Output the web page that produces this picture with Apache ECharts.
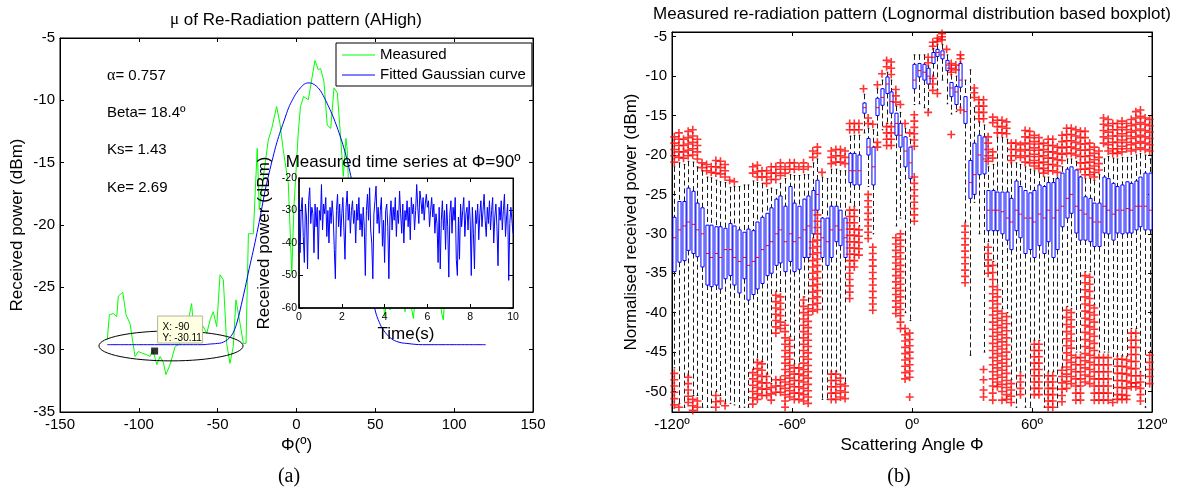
<!DOCTYPE html>
<html>
<head>
<meta charset="utf-8">
<title>Re-radiation pattern</title>
<script src="https://cdn.jsdelivr.net/npm/echarts@6/dist/echarts.min.js"></script>
<style>
  html, body { margin: 0; padding: 0; background: #fff; }
  #chart { width: 1183px; height: 490px; }
</style>
</head>
<body>
<div id="chart"></div>
<script>
(function (win, echarts) {
    var FONT = '"Liberation Sans", Arial, sans-serif',
        SERIF = '"Liberation Serif", "Times New Roman", serif';

    // (a) measured re-radiation and fitted gaussian
    var measuredAngle = [-120, -118.7, -116.2, -114, -113, -110.2, -108.1, -105.6, -102.4, -100.3, -97.5, -95, -92.9, -91.2, -88.6, -86.5, -84.5, -82.8, -80.2, -77,
        -74.8, -72.8, -69.6, -67.5, -66.5, -65.4, -62.3, -59.1, -56.9, -54.8, -52.8, -50.6, -48.5, -46.4, -44.3, -42.2, -40.1, -38.4, -35.8, -33.7,
        -32, -30.5, -27.4, -24.9, -23.6, -21, -17.9, -15.7, -12.6, -10.5, -8.4, -5.2, -3, -1.6, 1.1, 2.5, 4.5, 7.5, 11.7, 13.8,
        15.3, 17.4, 19.5, 21.7, 23.8, 25.9, 28, 29.7, 31.4, 32.2, 32.9, 34, 36, 38, 40, 42, 44, 46, 48, 50,
        52, 54, 56, 58, 59.3, 61, 63, 65, 67, 68.8, 70, 72, 74.1, 76, 78, 80, 82, 84, 86, 88,
        90, 92.1, 93.1, 95, 97, 99, 101, 103, 105, 107, 109, 111, 113, 115, 117, 119, 120];
    var measuredPower = [-29.2, -27.2, -27.1, -27.35, -25.7, -25.4, -27.2, -27.9, -30.55, -30.15, -30.3, -30.4, -30.55, -30, -31.2, -30.55, -31, -32, -31.2, -29.75,
        -29.6, -29.35, -28.15, -26.95, -26.3, -28.15, -29.1, -28.15, -28.7, -27.6, -26.95, -28.15, -24, -24.4, -29.5, -31.1, -29.75, -26, -27.9, -29.5,
        -29.5, -20.7, -20.7, -13.85, -18.8, -16.1, -13.2, -12.25, -10.5, -11.85, -14, -16.65, -23.9, -18.5, -12.65, -10.5, -9.7, -9.95, -6.8, -7.55,
        -7.45, -8.5, -12, -12.25, -9, -9.4, -13, -16.1, -13.05, -14, -16.4, -19, -24, -22, -25.5, -21, -24, -22.5, -25, -23,
        -26, -25, -27.35, -25, -26.8, -24, -22.5, -25, -24, -26.95, -25.5, -26, -27.5, -25, -22, -24, -21.5, -23, -25, -22,
        -24.5, -27.1, -27.6, -24, -22, -25, -23, -21.5, -24, -26, -23, -25.5, -22, -24, -25, -23, -24];
    var fittedAngle = [-120, -100, -80, -60, -55, -50, -47.5, -45, -42.5, -40, -37.5, -35, -32.5, -30, -27.5, -25, -22.5, -20, -17.5, -15,
        -12.5, -10, -7.5, -5, -2.5, 0, 2.5, 5, 8, 10, 12.5, 15, 17.5, 20, 22.5, 25, 27.5, 30, 32.5, 35,
        37.5, 40, 42.5, 45, 47.5, 50, 52.5, 55, 60, 65, 70, 80, 100, 120];
    var fittedPower = [-29.6, -29.6, -29.6, -29.6, -29.55, -29.5, -29.45, -29.3, -29.05, -28.6, -27.7, -26.4, -25, -23.5, -22.1, -20.6, -19, -17.3, -15.9, -14.6,
        -13.4, -12.4, -11.5, -10.6, -9.95, -9.4, -9, -8.7, -8.6, -8.65, -8.85, -9.2, -9.75, -10.4, -11.1, -11.9, -12.8, -13.8, -15, -16.4,
        -18, -19.8, -21.7, -23.4, -25.3, -26.9, -27.8, -28.4, -29.1, -29.4, -29.5, -29.6, -29.6, -29.6];
    var markerPoint = [-90, -30.11];
    var ellipseCenter = [-79.6, -29.7],
        ellipseRadius = [45.7, 1.2];

    // inset: measured time series at 90 deg, one value every 0.05 s
    var timeStep = 0.05;
    var timeSeries = [
        -27, -43, -30, -26, -38, -46, -28, -32, -48, -27,
        -23, -34, -29, -31, -43, -28, -35, -29, -45, -30,
        -33, -22, -36, -28, -31, -26, -38, -30, -40, -29,
        -34, -27, -32, -42, -51, -30, -25, -35, -28, -38,
        -31, -26, -36, -45, -29, -24, -33, -28, -37, -30,
        -27, -34, -30, -40, -28, -33, -26, -36, -31, -38,
        -29, -35, -50, -30, -25, -33, -23, -36, -40, -51,
        -31, -27, -22.5, -34, -29, -37, -30, -26, -41, -33,
        -46, -30, -28, -35, -51, -32, -27, -36, -29, -33,
        -26, -38, -30, -34, -24, -31, -37, -28, -40, -30,
        -33, -27, -35, -29, -39, -26, -31, -28, -36, -30,
        -22, -29, -34, -24, -27, -31, -26, -33, -28, -25,
        -29, -27, -35, -30, -26, -32, -28, -37, -31, -34,
        -46, -29, -48, -33, -27, -36, -30, -42, -28, -35,
        -50.5, -31, -27, -37, -29, -33, -26, -45, -50, -32,
        -45, -28, -35, -30, -26, -38, -31, -29, -36, -27,
        -33, -50, -29, -37, -48, -30, -34, -28, -39, -31,
        -27, -35, -30, -25, -33, -38, -29, -34, -27, -36,
        -30, -26, -40, -32, -28, -35, -47, -29, -33, -27,
        -36, -30, -25, -38, -32, -28, -51.5, -34, -29, -33,
        -37];

    // (b) boxplot per angle step
    var whiskerLow = [-47, -51.5, -52, -48, -50.5, -50.5, -52, -52, -52, -50, -50.5, -51.5, -51.5, -51.7, -52, -52, -52, -47.2, -46, -46.2,
        -47.8, -49, -37.3, -37.3, -41, -43, -46.5, -46.5, -38, -39, -30.5, -27.3, -51, -51, -47.5, -47.5, -48, -49, -26, -26.5,
        -29, -17.2, -24, -30, -17.5, -16.8, -16, -16, -29, -28, -40, -41, -13.6, -13.5, -14, -14.3, -10, -11.7, -10.5, -13.5,
        -14.8, -14.5, -14, -28.5, -45.4, -26, -30, -45, -31, -33.5, -36.5, -39.5, -40, -48.5, -52, -47.5, -52, -52, -43.5, -43.5,
        -52, -47.5, -47.5, -52, -47, -39.2, -39.5, -45, -45, -34.8, -34.8, -39, -45, -45, -45, -51, -45.5, -45.5, -45.5, -42,
        -42, -47.5, -52, -45];
    var boxLow = [-34.8, -33.6, -33.4, -32.1, -32.5, -32.9, -34.2, -36.5, -36.7, -36.5, -37, -35.7, -35.3, -36.5, -37.5, -35.7, -38.4, -37.7, -37, -36.3,
        -35.3, -35, -34, -33.7, -34.8, -33.5, -34.8, -34.5, -33, -33, -30, -27, -33, -34, -33, -31, -31.5, -33, -23.5, -23.8,
        -23.8, -14.7, -20, -23.8, -15, -13.7, -12.2, -14.7, -17.5, -19, -21.5, -23, -11.6, -10.1, -10.5, -11, -8.4, -7.5, -7.8, -9.3,
        -12.6, -13.6, -11.4, -16, -25.5, -25, -22.5, -22.4, -29.6, -29.6, -29.6, -30, -30.8, -32, -29.6, -30.5, -32.5, -32, -33, -31.5,
        -32.5, -31, -33, -32, -29.1, -28, -27.4, -29.9, -30.8, -30.8, -31, -31.6, -31.6, -29.9, -30, -30.8, -29.9, -30, -29.9, -29.9,
        -29.5, -29.1, -29.5, -29.5];
    var boxMedian = [-30.5, -29.5, -29, -28.5, -28.8, -29.5, -30, -32.5, -33, -32.5, -33, -32, -32, -33, -33.5, -33, -34, -33.5, -33, -32,
        -31.5, -31, -30, -29.5, -31, -30, -31, -30.5, -29.5, -29, -27, -25, -30.5, -31, -29.5, -29, -29.5, -30.5, -22, -22,
        -22, -14, -19, -21.5, -14, -12.7, -11, -13.2, -16, -17.5, -19.5, -21, -10.5, -9.3, -9.5, -10, -7.6, -7, -7.3, -8.6,
        -11.5, -12, -10.5, -14.5, -23.5, -22.5, -20, -20.5, -27, -27, -27, -27.2, -28, -28.5, -27, -27.5, -28, -28, -28.5, -27.5,
        -28, -27, -28, -27, -26.5, -25.5, -25, -26.5, -27, -27.5, -28, -28.5, -28.5, -26.5, -27, -27.5, -27, -27, -26.8, -27,
        -26.5, -26.5, -26.5, -27];
    var boxHigh = [-27.9, -25.9, -25.9, -24.2, -24.6, -26.1, -26.7, -28.9, -28.9, -29.1, -29.1, -29.3, -28.7, -29, -29.5, -29.8, -29.4, -29.6, -28.5, -27.9,
        -27.4, -26.7, -25.6, -25.2, -26.5, -24, -26.1, -26.5, -25.6, -25.2, -24.5, -23.2, -28, -28, -26.5, -26.5, -27, -28, -19.8, -19.8,
        -20, -13.4, -17.9, -19, -12.8, -11.6, -10.1, -12, -14.7, -16, -17.7, -19, -8.5, -8.4, -8.5, -9, -7, -6.6, -6.8, -8,
        -10.8, -11.3, -8.4, -12.6, -20.7, -18.5, -17.5, -17.7, -24.5, -24.5, -24.7, -24.7, -24.7, -25.5, -23.3, -24, -24.5, -24.8, -24.5, -23.8,
        -24, -23.5, -23.5, -23, -22.3, -21.8, -21.5, -21.9, -22.8, -25.3, -25.5, -26.1, -26.1, -22.8, -23, -23.6, -24, -23.8, -23.4, -23.6,
        -23.3, -22.8, -22.3, -22.3];
    var whiskerHigh = [-21.5, -21, -21.2, -20.8, -20.9, -21.5, -22, -22.8, -22.9, -23.2, -23.4, -23.5, -24.1, -24, -24, -23.8, -23.8, -23.3, -23.5, -23.6,
        -24.4, -24.2, -24.4, -23.6, -23, -22.5, -22.6, -22.6, -22.5, -22.5, -21, -20.5, -22.8, -23, -21.8, -21.8, -22, -22, -17.6, -17.5,
        -17.5, -12.3, -16.6, -16.8, -11.6, -10.5, -9.5, -10.5, -13.8, -14.6, -16.6, -18, -7.3, -7.3, -7.3, -8.7, -6.5, -6, -6, -7.3,
        -9.8, -10, -8.2, -10.5, -9.2, -14, -15.8, -16.2, -21.5, -21.2, -17.8, -17.8, -18, -21, -21, -21.2, -21.5, -21.8, -22, -22.3,
        -22.8, -22.8, -23, -22.8, -21.5, -20.5, -20.5, -20.8, -22.7, -23, -23, -23.2, -22.5, -20.5, -20.2, -20.4, -20.5, -20.3, -20.3, -20.3,
        -20, -19.8, -20, -20.5];
    // [box index, outlier values]
    var upperOutliers = [
        [0, [-17.7, -18.5, -19.3, -20.1, -20.9]], [1, [-17.2, -18, -18.8, -19.6, -20.3]], [2, [-18, -18.8, -19.6, -20.4]],
        [3, [-17, -17.8, -18.6, -19.4, -20.1]], [4, [-16.8, -17.6, -18.4, -19.2, -20]], [5, [-18, -18.8, -19.6, -20.5]],
        [6, [-21, -21.6]], [7, [-21.2, -22]], [8, [-21.5, -22.2]], [9, [-20.7, -21.5, -22.3]], [10, [-20.8, -21.6, -22.4]],
        [11, [-21.2, -22, -22.8]], [12, [-23.2]], [13, [-23.4]], [17, [-21.5, -22.3]], [18, [-21.3, -22.1, -22.8]],
        [19, [-22, -22.8]], [20, [-22, -22.8, -23.6]], [21, [-21.5, -22.3, -23.1]], [22, [-21.5, -22.3, -23.1]],
        [23, [-21, -21.8, -22.6]], [24, [-21.5, -22.3]], [25, [-21, -21.8]], [26, [-21, -21.8]], [27, [-21.5]],
        [28, [-21, -21.8]], [29, [-21.5]], [30, [-19.5, -20.3]], [31, [-19, -19.8]], [32, [-22.2]],
        [34, [-19.5, -20.3, -21.1]], [35, [-19.3, -20.1, -20.9]], [36, [-19.3, -20.1, -20.9]], [37, [-19.5, -20.3, -21.1]],
        [38, [-16, -16.8]], [39, [-16, -16.8]], [40, [-16, -16.8]], [41, [-11.6]], [42, [-15.3, -16]], [43, [-16.1]],
        [44, [-11.1]], [45, [-9.7]], [46, [-8, -8.8]], [47, [-8.2, -9, -9.8]], [48, [-11.7, -12.5, -13.3]], [49, [-13.6]],
        [50, [-16]], [51, [-17.2]], [55, [-7.6, -8.3]], [56, [-5.7, -6.2]], [57, [-5.2, -5.6]], [58, [-4.6, -5, -5.4]],
        [59, [-6.6]], [60, [-8.4, -9, -9.5]], [61, [-8.6, -9.2]], [62, [-7.3, -7.8]], [65, [-11.5, -12.1, -12.7]],
        [66, [-13, -13.8, -14.6, -15.4]], [67, [-13, -13.8, -14.6, -15.4]], [68, [-17.7, -18.5, -19.3, -20.1, -20.8]],
        [69, [-15.2, -15.9, -19.6, -20.4]], [70, [-15.6, -16.4, -17.2]], [71, [-15.6, -16.4, -17.2]], [72, [-15.8, -16.6, -17.3]],
        [73, [-18.5, -19.3, -20.1, -20.7]], [74, [-18.5, -19.3, -20.1]], [75, [-18.7, -19.5, -20.3]],
        [76, [-16.9, -17.7, -18.5, -19.3, -20.1, -20.9]], [77, [-17, -17.8, -18.6, -19.4, -20.2, -21]],
        [78, [-17.5, -18.3, -19.1, -19.9, -20.7, -21.4]], [79, [-17.8, -18.6, -19.4, -20.2, -21, -21.7]],
        [80, [-18.5, -19.3, -20.1, -20.9, -21.7, -22.3]], [81, [-18, -18.8, -19.6, -20.4, -21.2, -22]],
        [82, [-18, -18.8, -19.6, -20.4, -21.2, -22]], [83, [-19, -19.8, -20.6, -21.4, -22.2]],
        [84, [-17.5, -18.3, -19.1, -19.9, -20.7]], [85, [-16.6, -17.4, -18.2, -19, -19.8]], [86, [-16.6, -17.4, -18.2, -19, -19.8]],
        [87, [-16.8, -17.6, -18.4, -19.2, -20]], [88, [-17, -17.8, -18.6, -19.4, -20.2, -21, -21.8]],
        [89, [-17, -17.8, -18.6, -19.4, -20.2, -21, -21.8, -22.5]], [90, [-18.5, -19.3, -20.1, -20.9, -21.7, -22.5]],
        [91, [-19, -19.8, -20.6, -21.4, -22.2, -22.8]], [92, [-19.5, -20.3, -21.1, -21.9]], [93, [-15.3, -16.1, -16.9, -17.7, -18.5]],
        [94, [-15.5, -16.3, -17.1, -17.9, -18.7, -19.5]], [95, [-16, -16.8, -17.6, -18.4, -19.2, -19.8]],
        [96, [-16, -16.8, -17.6, -18.4, -19.2, -19.8]], [97, [-15.7, -16.5, -17.3, -18.1, -18.9, -19.6]],
        [98, [-16, -16.8, -17.6, -18.4, -19.2]], [99, [-15.5, -16.3, -17.1, -17.9, -18.7, -19.5]],
        [100, [-14.5, -15.3, -16.1, -16.9, -17.7, -18.5, -19.3]], [101, [-14.3, -15.1, -15.9, -16.7, -17.5, -18.3, -19.1]],
        [102, [-15.3, -16.1, -16.9, -17.7, -18.5, -19.3]], [103, [-15.5, -16.3, -17.1, -17.9, -18.7, -19.5]]
    ];
    var lowerOutliers = [
        [0, [-47.7, -48.5, -49.3, -50.1, -50.9, -51.7]], [1, [-52]], [3, [-48.2, -49, -49.8, -50.6, -51.4]], [4, [-51, -51.8, -52.4]],
        [5, [-51.2, -52]], [9, [-50.5, -51.3, -52]], [10, [-51.2]], [11, [-51.8]],
        [17, [-47.6, -48.4, -49.2, -50, -50.8, -51.6]], [18, [-46.3, -47.1, -47.9, -48.7, -49.5, -50.3, -51]],
        [19, [-46.5, -47.3, -48.1, -48.9, -49.7, -50.5]], [20, [-48.1, -48.9, -49.7, -50.5]], [21, [-49.5, -50.3, -51.1]],
        [22, [-37.8, -38.6, -39.4, -40.2, -41, -41.8, -42.6, -48.5, -49.3, -50.1]],
        [23, [-38, -38.8, -39.6, -40.4, -41.2, -42, -48.5, -49.3, -50.1]],
        [24, [-41.6, -42.4, -43.2, -44, -44.8, -45.6, -46.4, -47.2, -48, -48.8, -49.6, -50.4, -51.2, -52]],
        [25, [-43.5, -44.3, -45.1, -45.9, -46.7, -47.5, -48.3, -49.1, -49.9, -50.7]],
        [26, [-47, -47.8, -48.6, -49.4, -50.2, -51]], [27, [-47, -47.8, -48.6, -49.4, -50.2, -51]],
        [28, [-38.4, -39.2, -40, -40.8, -41.6, -42.4, -43.2, -44, -44.8, -45.6, -46.4, -47.2, -48, -48.8, -49.6, -50.4, -51.2]],
        [29, [-39.5, -40.3, -41.1, -41.9, -42.7, -43.5, -44.3, -45.1, -45.9, -46.7, -47.5, -48.3, -49.1, -49.9, -50.7, -51.5]],
        [30, [-31, -31.8, -32.6, -33.4, -34.2, -35, -35.8, -36.6, -37.4, -38.2, -39, -39.8]],
        [31, [-27.6, -28.4, -29.2, -30, -30.8, -31.6, -32.4, -33.2, -34, -34.8, -35.6, -36.4, -37.2, -38, -38.8, -39.6]],
        [34, [-47.8, -48.6, -49.4, -50.2, -51]], [35, [-47.8, -48.6, -49.4, -50.2, -51]], [36, [-48.3, -49.1, -49.9, -50.7]],
        [37, [-49.3, -50.1, -50.9]],
        [38, [-27, -27.8, -28.6, -29.4, -30.2, -31, -31.8, -32.6, -33.4, -34.2, -35, -35.8, -36.6, -37.4, -38.2]],
        [39, [-27, -27.8, -28.6, -29.4, -30.2, -31, -31.8, -32.6, -33.4, -34.2]], [40, [-29.5, -30.3, -31.1, -31.9, -32.7]],
        [42, [-25, -25.8, -26.6, -27.4, -28.2, -29, -29.8, -30.6]],
        [43, [-31.7, -32.5, -33.3, -34.1, -34.9, -35.7, -36.5, -37.3, -38.1, -38.9, -39.7]],
        [44, [-18.4, -19]], [46, [-16.4, -17.2, -18, -18.8]], [47, [-16.4, -17.2, -18, -18.8]],
        [48, [-30.5, -31.3, -32.1, -32.9, -33.7, -34.5, -35.3, -36.1, -36.9, -37.7, -38.5, -39.3, -40.1]],
        [49, [-30, -30.8, -31.6, -32.4, -33.2, -34, -34.8, -35.6, -36.4, -37.2, -38, -38.8, -39.6, -40.4, -41.2, -42]],
        [50, [-42, -42.8, -43.6, -44.4, -45.2, -46, -46.8, -47.6, -48.4]],
        [51, [-42.6, -43.4, -44.2, -45, -45.8, -46.6, -47.4, -48.2, -50.7]],
        [52, [-14.9, -15.7, -16.5, -17.3, -18.1, -18.9, -22.8, -23.6, -24.4, -25.2, -26, -26.8, -27.6, -28.4]],
        [55, [-14.6]], [56, [-10.3, -11, -11.8]], [57, [-12.2]], [60, [-17.4]], [62, [-14.3]],
        [63, [-29, -29.8, -30.6, -31.4, -32.2, -33, -33.8, -34.6, -35.4, -36.2]],
        [67, [-47.2, -48.5, -49.8, -50.7]], [68, [-31.7, -32.5, -33.3, -34.1, -35]],
        [69, [-34, -34.9, -35.8, -36.7, -37.6, -38.5, -39.4, -40.3, -41.2, -42.1, -43, -43.9, -44.8, -45.7, -46.6, -47.5, -48.4, -49.3, -50.2, -51.1]],
        [70, [-37.1, -38, -38.9, -39.8, -40.7, -41.6, -42.5, -43.4, -44.3, -45.2, -46.1, -47, -47.9, -48.8, -49.4]],
        [71, [-40.1, -41, -41.9, -42.8, -43.7, -44.6, -45.5, -46.4, -47.3, -48.2, -49.1, -50, -51.1]],
        [72, [-40.5, -41.4, -42.3, -43.2, -44.1, -45, -45.9, -46.8, -47.7, -48.6, -49.5, -50.4, -51]],
        [73, [-49, -49.8, -50.6, -51.4]], [75, [-48, -48.8, -49.6, -50.4]],
        [78, [-44, -44.8, -45.6, -46.4, -47.2, -48, -48.8, -49.6, -50.4]], [79, [-44, -44.8, -45.6, -46.4, -47.2, -48, -48.8, -49.6, -50.4]],
        [81, [-48, -48.8, -49.6, -50.4, -51.2, -52]], [82, [-48, -48.8, -49.6, -50.4, -51.2, -52]],
        [84, [-47.3, -48.1, -48.9, -49.7, -50.5, -51.3]],
        [85, [-39.7, -40.6, -41.5, -42.4, -43.3, -44.2, -45.1, -46, -46.9, -47.8, -48.7, -49.6]],
        [86, [-40, -40.9, -41.8, -42.7, -43.6, -44.5, -45.4, -46.3, -47.2, -48.1, -49]],
        [87, [-45.7, -46.6, -47.5, -48.4, -49.3, -50.2, -51.1]], [88, [-45.7, -46.6, -47.5, -48.4, -49.3, -50.2, -51.1]],
        [89, [-35.3, -36.2, -37.1, -38, -38.9, -39.8, -40.7, -41.6, -42.5, -43.4, -44.3, -45.2, -46.1, -47, -47.9, -48.8]],
        [90, [-35.5, -36.4, -37.3, -38.2, -39.1, -40, -40.9, -41.8, -42.7, -43.6, -44.5, -45.4, -46.3, -47.2, -48.1, -49]],
        [91, [-39.4, -40.3, -41.2, -42.1, -43, -43.9, -44.8, -45.7, -46.6, -47.5, -48.4, -49.3, -50.2, -51.1]],
        [92, [-45.7, -46.6, -47.5, -48.4, -49.3, -50.2, -51.1]], [93, [-45.7, -46.6, -47.5, -48.4, -49.3, -50.2, -51.1]],
        [94, [-45.7, -46.6, -47.5, -48.4, -49.3, -50.2, -51.1]], [95, [-51.4]],
        [96, [-45.9, -46.8, -47.7, -48.6, -49.5, -50.4, -51]], [97, [-45.9, -46.8, -47.7, -48.6, -49.5, -50.4, -51]],
        [98, [-46, -46.9, -47.8, -48.7, -49.6, -50.5, -51]],
        [99, [-42.6, -43.5, -44.4, -45.3, -46.2, -47.1, -48, -48.9, -49.4]],
        [100, [-42.6, -43.5, -44.4, -45.3, -46.2, -47.1, -48, -48.9, -49.4]],
        [101, [-48, -48.8, -49.6, -50.4, -51.2]], [103, [-45.4, -46.3, -47.2, -48.1, -49]]
    ];
    var angleTicksB = [-120, 120, 60];          // min, max, step
    var powerTicksB = [-50, -45, -40, -35, -30, -25, -20, -15, -10, -5];
    var powerRangeB = [-52.6, -4.4];

    var chart = echarts.init(document.getElementById('chart'));

    var tickIn = { show: true, inside: true, length: 4, lineStyle: { color: '#000', width: 1 } },
        lineBlack = { show: true, onZero: false, lineStyle: { color: '#000', width: 1 } },
        lineThick = { show: true, onZero: false, lineStyle: { color: '#000', width: 1.5 } },
        noSplit = { show: false },
        labelStyle = { color: '#000', fontFamily: FONT, fontSize: 15 },
        nameStyle = { color: '#000', fontFamily: FONT, fontSize: 17 };

    function pairs(xs, ys) {
        return xs.map(function (x, i) { return [x, ys[i]]; });
    }

    function plusPoints(list) {
        var pts = [];
        list.forEach(function (row) {
            row[1].forEach(function (v) { pts.push([row[0], v]); });
        });
        return pts;
    }

    var boxRows = whiskerLow.map(function (lo, i) {
        return [i, lo, boxLow[i], boxMedian[i], boxHigh[i], whiskerHigh[i]];
    });
    var boxIds = whiskerLow.map(function (v, i) { return String(i); });

    //one boxplot glyph: dashed whiskers, caps, blue box, red median
    function renderBox(params, api) {
        var i = api.value(0),
            pLo = api.coord([i, api.value(1)]),
            pQ1 = api.coord([i, api.value(2)]),
            pMed = api.coord([i, api.value(3)]),
            pQ3 = api.coord([i, api.value(4)]),
            pHi = api.coord([i, api.value(5)]),
            band = api.size([1, 0])[0],
            x = Math.round(pQ1[0]) + 0.5,
            hw = band * 0.34,
            cw = band * 0.17,
            dash = { stroke: '#1a1a1a', lineWidth: 1, lineDash: [5, 3], fill: null },
            solid = { stroke: '#000', lineWidth: 1, fill: null };
        return {
            type: 'group',
            children: [
                { type: 'line', shape: { x1: x, y1: pHi[1], x2: x, y2: pQ3[1] }, style: dash },
                { type: 'line', shape: { x1: x, y1: pQ1[1], x2: x, y2: pLo[1] }, style: dash },
                { type: 'line', shape: { x1: x - cw, y1: pHi[1], x2: x + cw, y2: pHi[1] }, style: solid },
                { type: 'line', shape: { x1: x - cw, y1: pLo[1], x2: x + cw, y2: pLo[1] }, style: solid },
                { type: 'rect', shape: { x: x - hw, y: pQ3[1], width: 2 * hw, height: pQ1[1] - pQ3[1] },
                    style: { fill: '#fff', stroke: '#0000ff', lineWidth: 1 } },
                { type: 'line', shape: { x1: x - hw, y1: pMed[1], x2: x + hw, y2: pMed[1] },
                    style: { stroke: '#ff0000', lineWidth: 1, fill: null } }
            ]
        };
    }

    var plusSymbol = 'path://M4,0H6V4H10V6H6V10H4V6H0V4H4Z';

    var option = {
        animation: false,
        backgroundColor: '#fff',
        textStyle: { fontFamily: FONT },
        grid: [
            { left: 60, top: 38, width: 473, height: 374, show: true, borderColor: '#000', borderWidth: 1 },
            { left: 299, top: 178, width: 214, height: 130, show: true, backgroundColor: '#fff',
                borderColor: '#000', borderWidth: 1, z: 10 },
            { left: 672, top: 32, width: 480, height: 380, show: true, borderColor: '#000', borderWidth: 1 }
        ],
        legend: {
            data: ['Measured', 'Fitted Gaussian curve'],
            left: 336, top: 43, orient: 'vertical',
            icon: 'rect', itemWidth: 33, itemHeight: 1.2, itemGap: 4,
            padding: [4, 6, 3, 6],
            backgroundColor: '#fff', borderColor: '#000', borderWidth: 1, borderRadius: 0,
            textStyle: { color: '#000', fontFamily: FONT, fontSize: 15, lineHeight: 16 }
        },
        xAxis: [
            { gridIndex: 0, type: 'value', min: -150, max: 150, interval: 50,
                axisLine: lineBlack, axisTick: tickIn, splitLine: noSplit,
                axisLabel: Object.assign({ margin: 5 }, labelStyle),
                name: 'Φ(º)', nameLocation: 'middle', nameGap: 20, nameTextStyle: nameStyle },
            { gridIndex: 0, type: 'value', position: 'top', min: -150, max: 150, interval: 50,
                axisLine: lineBlack, axisTick: tickIn, splitLine: noSplit, axisLabel: { show: false } },
            { gridIndex: 1, type: 'value', min: 0, max: 10, interval: 2, z: 11,
                axisLine: lineThick, axisTick: tickIn, splitLine: noSplit,
                axisLabel: { color: '#000', fontFamily: FONT, fontSize: 10.5, margin: 4 },
                name: 'Time(s)', nameLocation: 'middle', nameGap: 18, nameTextStyle: nameStyle },
            { gridIndex: 1, type: 'value', position: 'top', min: 0, max: 10, interval: 2, z: 11,
                axisLine: lineBlack, axisTick: tickIn, splitLine: noSplit, axisLabel: { show: false } },
            { gridIndex: 2, type: 'category', data: boxIds, boundaryGap: true, show: false },
            { gridIndex: 2, type: 'value', position: 'bottom', min: angleTicksB[0], max: angleTicksB[1], interval: angleTicksB[2],
                axisLine: lineBlack, axisTick: tickIn, splitLine: noSplit,
                axisLabel: Object.assign({ margin: 5, formatter: function (v) { return v + 'º'; } }, labelStyle),
                name: 'Scattering Angle Φ', nameLocation: 'middle', nameGap: 22, nameTextStyle: nameStyle },
            { gridIndex: 2, type: 'value', position: 'top', min: angleTicksB[0], max: angleTicksB[1], interval: angleTicksB[2],
                axisLine: lineBlack, axisTick: tickIn, splitLine: noSplit, axisLabel: { show: false } }
        ],
        yAxis: [
            { gridIndex: 0, type: 'value', position: 'left', min: -35, max: -5, interval: 5,
                axisLine: lineBlack, axisTick: tickIn, splitLine: noSplit,
                axisLabel: Object.assign({ margin: 5 }, labelStyle),
                name: 'Received power (dBm)', nameLocation: 'middle', nameGap: 34, nameTextStyle: nameStyle },
            { gridIndex: 0, type: 'value', position: 'right', min: -35, max: -5, interval: 5,
                axisLine: lineBlack, axisTick: tickIn, splitLine: noSplit, axisLabel: { show: false } },
            { gridIndex: 1, type: 'value', position: 'left', min: -60, max: -20, interval: 10, z: 11,
                axisLine: lineThick, axisTick: tickIn, splitLine: noSplit,
                axisLabel: { color: '#000', fontFamily: FONT, fontSize: 10.5, margin: 2 },
                name: 'Received power (dBm)', nameLocation: 'middle', nameGap: 26, nameTextStyle: nameStyle },
            { gridIndex: 1, type: 'value', position: 'right', min: -60, max: -20, interval: 10, z: 11,
                axisLine: lineBlack, axisTick: tickIn, splitLine: noSplit, axisLabel: { show: false } },
            { gridIndex: 2, type: 'value', position: 'left', min: powerRangeB[0], max: powerRangeB[1],
                axisLine: lineBlack, axisTick: Object.assign({ customValues: powerTicksB }, tickIn), splitLine: noSplit,
                axisLabel: Object.assign({ margin: 5, customValues: powerTicksB }, labelStyle),
                name: 'Normalised received power (dBm)', nameLocation: 'middle', nameGap: 32, nameTextStyle: nameStyle },
            { gridIndex: 2, type: 'value', position: 'right', min: powerRangeB[0], max: powerRangeB[1],
                axisLine: lineBlack, axisTick: Object.assign({ customValues: powerTicksB }, tickIn), splitLine: noSplit,
                axisLabel: { show: false } }
        ],
        series: [
            { name: 'Measured', type: 'line', xAxisIndex: 0, yAxisIndex: 0,
                data: pairs(measuredAngle, measuredPower), symbol: 'none',
                lineStyle: { color: '#00ff00', width: 1 }, itemStyle: { color: '#00ff00' }, z: 2 },
            { name: 'Fitted Gaussian curve', type: 'line', xAxisIndex: 0, yAxisIndex: 0,
                data: pairs(fittedAngle, fittedPower), symbol: 'none', smooth: 0.4,
                lineStyle: { color: '#0000ff', width: 1 }, itemStyle: { color: '#0000ff' }, z: 2 },
            { type: 'scatter', xAxisIndex: 0, yAxisIndex: 0, data: [markerPoint],
                symbol: 'rect', symbolSize: 7, itemStyle: { color: '#000' }, z: 5 },
            { type: 'line', xAxisIndex: 2, yAxisIndex: 2,
                data: timeSeries.map(function (v, i) { return [i * timeStep, v]; }),
                symbol: 'none', lineStyle: { color: '#0000ff', width: 1 }, z: 12 },
            { type: 'custom', xAxisIndex: 4, yAxisIndex: 4, data: boxRows, renderItem: renderBox,
                encode: { x: 0, y: [1, 2, 3, 4, 5] }, z: 2 },
            { type: 'scatter', xAxisIndex: 4, yAxisIndex: 4,
                data: plusPoints(upperOutliers).concat(plusPoints(lowerOutliers)),
                symbol: plusSymbol, symbolSize: 8, itemStyle: { color: '#ff0000' }, z: 3 }
        ]
    };

    chart.setOption(option);

    //annotations anchored on the data coordinates
    var toPx = function (p) { return chart.convertToPixel({ xAxisIndex: 0, yAxisIndex: 0 }, p); };
    var c = toPx(ellipseCenter),
        e = toPx([ellipseCenter[0] + ellipseRadius[0], ellipseCenter[1] - ellipseRadius[1]]),
        m = toPx(markerPoint);

    function label(x, y, text, size, align, extra) {
        return Object.assign({
            type: 'text', x: x, y: y, z: 20,
            style: { text: text, fontFamily: FONT, fontSize: size, fill: '#000',
                align: align || 'center', verticalAlign: 'middle' }
        }, extra || {});
    }

    var greek = { g: { fontFamily: SERIF, fontSize: 16 } };

    chart.setOption({
        graphic: [
            { type: 'ellipse', z: 20, shape: { cx: c[0], cy: c[1], rx: e[0] - c[0], ry: e[1] - c[1] },
                style: { fill: null, stroke: '#000', lineWidth: 1 } },
            { type: 'rect', z: 20, shape: { x: m[0] + 3, y: m[1] - 35, width: 45, height: 27 },
                style: { fill: '#ffffe1', stroke: '#b5b5a0', lineWidth: 1 } },
            label(m[0] + 8, m[1] - 24, 'X: -90', 10, 'left'),
            label(m[0] + 8, m[1] - 13, 'Y: -30.11', 10, 'left'),
            { type: 'text', x: 296, y: 20, z: 20,
                style: { text: '{g|μ} of Re-Radiation pattern (AHigh)', rich: { g: { fontFamily: SERIF, fontSize: 17 } },
                    fontFamily: FONT, fontSize: 17, fill: '#000', align: 'center', verticalAlign: 'middle' } },
            label(912, 14, 'Measured re-radiation pattern (Lognormal distribution based boxplot)', 17),
            label(403, 162, 'Measured time series at Φ=90º', 17),
            { type: 'text', x: 107, y: 76, z: 20,
                style: { text: '{g|α}= 0.757', rich: greek, fontFamily: FONT, fontSize: 15, fill: '#000',
                    align: 'left', verticalAlign: 'middle' } },
            label(107, 113, 'Beta= 18.4º', 15, 'left'),
            label(107, 150, 'Ks= 1.43', 15, 'left'),
            label(107, 188, 'Ke= 2.69', 15, 'left'),
            { type: 'text', x: 289, y: 477, z: 20,
                style: { text: '(a)', fontFamily: SERIF, fontSize: 20, fill: '#000', align: 'center', verticalAlign: 'middle' } },
            { type: 'text', x: 899, y: 477, z: 20,
                style: { text: '(b)', fontFamily: SERIF, fontSize: 20, fill: '#000', align: 'center', verticalAlign: 'middle' } }
        ]
    });
})(this, echarts);
</script>
</body>
</html>
